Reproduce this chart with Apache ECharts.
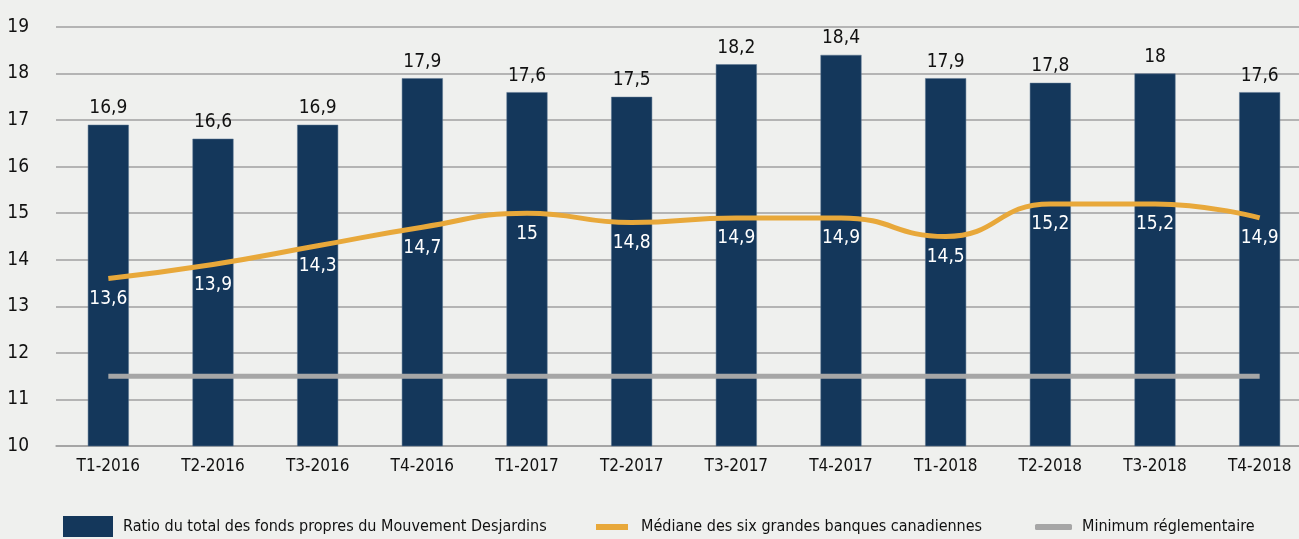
<!DOCTYPE html>
<html>
<head>
<meta charset="utf-8">
<script src="https://cdn.jsdelivr.net/npm/echarts@6/dist/echarts.min.js"></script>
<style>
  html, body { margin: 0; padding: 0; background: #eff0ee; }
  #chart { width: 1299px; height: 539px; }
</style>
</head>
<body>
<div id="chart"></div>
<script>
const categories = ['T1-2016', 'T2-2016', 'T3-2016', 'T4-2016', 'T1-2017', 'T2-2017',
  'T3-2017', 'T4-2017', 'T1-2018', 'T2-2018', 'T3-2018', 'T4-2018'];
const desjardins = [16.9, 16.6, 16.9, 17.9, 17.6, 17.5, 18.2, 18.4, 17.9, 17.8, 18, 17.6];
const medianBanks = [13.6, 13.9, 14.3, 14.7, 15, 14.8, 14.9, 14.9, 14.5, 15.2, 15.2, 14.9];
const minimum = [11.5, 11.5, 11.5, 11.5, 11.5, 11.5, 11.5, 11.5, 11.5, 11.5, 11.5, 11.5];

const seriesNames = [
  'Ratio du total des fonds propres du Mouvement Desjardins',
  'Médiane des six grandes banques canadiennes',
  'Minimum réglementaire'
];

const FONT = '"Liberation Sans Narrow", "DejaVu Sans Condensed", "Roboto", sans-serif';
const comma = (p) => String(p.value).replace('.', ',');

// one legend per item so each can sit where the original puts it
function legendAt(left, top, name, icon, w, h, color, gap) {
  return {
    left: left,
    top: top,
    padding: 0,
    itemWidth: w,
    itemHeight: h,
    textStyle: { fontFamily: FONT, fontSize: 16, color: '#111', padding: [0, 0, 0, gap] },
    data: [{ name: name, icon: icon, itemStyle: { color: color, borderWidth: 0 } }]
  };
}

const chart = echarts.init(document.getElementById('chart'));

chart.setOption({
  backgroundColor: '#eff0ee',
  animation: false,
  textStyle: { fontFamily: FONT },
  grid: { left: 56, width: 1256, top: 27, height: 419, outerBoundsMode: 'none' },
  legend: [
    legendAt(63, 516, seriesNames[0], 'rect', 50, 21, '#14375b', 5),
    legendAt(596, 519, seriesNames[1], 'rect', 32, 6, '#e8a83a', 8),
    legendAt(1035, 519, seriesNames[2], 'roundRect', 37, 6, '#a6a6a6', 5)
  ],
  xAxis: {
    type: 'category',
    data: categories,
    axisTick: { show: false },
    axisLine: { lineStyle: { color: '#a0a0a0', width: 1.5 } },
    axisLabel: { fontFamily: FONT, fontSize: 17, color: '#111', margin: 12 }
  },
  yAxis: {
    type: 'value',
    min: 10,
    max: 19,
    interval: 1,
    axisLabel: { fontFamily: FONT, fontSize: 19, color: '#111', margin: 27 },
    splitLine: { lineStyle: { color: '#a0a0a0', width: 1.5 } },
    axisLine: { show: false },
    axisTick: { show: false }
  },
  series: [
    {
      name: seriesNames[0],
      type: 'bar',
      data: desjardins,
      barWidth: 41,
      itemStyle: { color: '#14375b', borderColor: '#5b7490', borderWidth: 0.5 },
      label: {
        show: true,
        position: 'top',
        distance: 7,
        formatter: comma,
        fontFamily: FONT,
        fontSize: 19,
        color: '#111'
      }
    },
    {
      name: seriesNames[1],
      type: 'line',
      data: medianBanks,
      smooth: 0.5,
      symbol: 'circle',
      symbolSize: 0.1,
      showSymbol: true,
      lineStyle: { color: '#e8a83a', width: 5 },
      itemStyle: { color: '#e8a83a' },
      label: {
        show: true,
        position: 'bottom',
        distance: 11,
        formatter: comma,
        fontFamily: FONT,
        fontSize: 19,
        color: '#ffffff'
      },
      z: 3
    },
    {
      name: seriesNames[2],
      type: 'line',
      data: minimum,
      symbol: 'none',
      lineStyle: { color: '#a6a6a6', width: 5 },
      itemStyle: { color: '#a6a6a6' },
      z: 3
    }
  ]
});
</script>
</body>
</html>
